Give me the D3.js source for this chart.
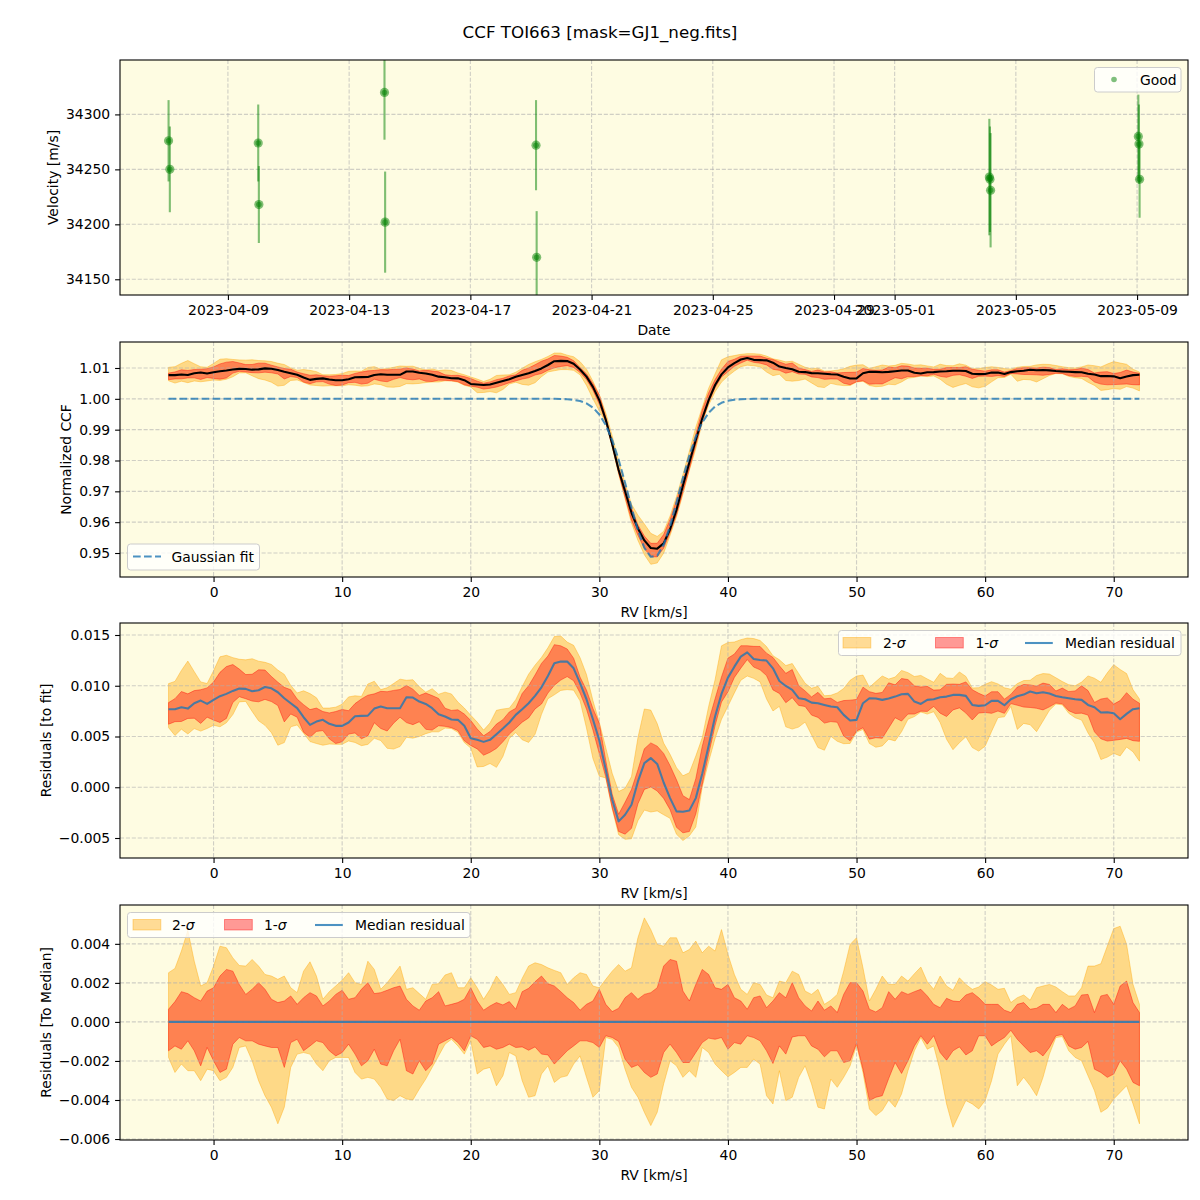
<!DOCTYPE html>
<html>
<head>
<meta charset="utf-8">
<script src="https://cdn.jsdelivr.net/npm/d3@7"></script>
<style>
  body { margin: 0; background: #fff; }
  svg { font-family: "DejaVu Sans", sans-serif; }
</style>
</head>
<body>
<svg id="fig"></svg>
<script>
const width = 1200;
const height = 1200;

// ---- data ----
// RV observations (top panel)
const obsDates = [
  "2023-04-07T01:00Z", "2023-04-07T02:00Z", "2023-04-10T00:00Z", "2023-04-10T00:30Z",
  "2023-04-14T04:00Z", "2023-04-14T04:30Z", "2023-04-19T04:00Z", "2023-04-19T04:30Z",
  "2023-05-04T03:00Z", "2023-05-04T03:30Z", "2023-05-04T04:00Z",
  "2023-05-09T01:00Z", "2023-05-09T01:30Z", "2023-05-09T02:00Z"
];
const obsVel = [34276, 34250, 34274, 34218, 34320, 34202, 34272, 34170, 34243, 34241, 34231, 34280, 34273, 34241];
const obsErr = [37, 39, 35, 35, 43, 46, 41, 42, 53, 48, 52, 38, 36, 35];
const dateTicks = ["2023-04-09", "2023-04-13", "2023-04-17", "2023-04-21", "2023-04-25",
  "2023-04-29", "2023-05-01", "2023-05-05", "2023-05-09"];
const velTicks = [34150, 34200, 34250, 34300];

// RV grid of the CCF, km/s (-3.5 .. 72 in 0.5 steps)
const rvGrid = d3.range(-3.5, 72.25, 0.5);

// Gaussian fit to the CCF
const gaussFit = [
  1, 1, 1, 1, 1, 1, 1, 1, 1, 1, 1, 1, 1, 1, 1, 1, 1, 1, 1, 1,
  1, 1, 1, 1, 1, 1, 1, 1, 1, 1, 1, 1, 1, 1, 1, 1, 1, 1, 1, 1,
  1, 1, 1, 1, 1, 1, 1, 1, 1, 1, 1, 1, 1, 1, 1, 1, 1, 1, 1, 1, 1,
  0.99994, 0.99986, 0.99967, 0.99928, 0.99853, 0.99718, 0.99494, 0.99149, 0.98660, 0.98026,
  0.97275, 0.96478, 0.95738, 0.95171, 0.94877, 0.94911, 0.95266, 0.95876, 0.96637, 0.97431,
  0.98163, 0.98770, 0.99229, 0.99547, 0.99751, 0.99872, 0.99938, 0.99972, 0.99988, 0.99995,
  1, 1, 1, 1, 1, 1, 1, 1, 1, 1, 1, 1, 1, 1, 1, 1, 1, 1, 1, 1,
  1, 1, 1, 1, 1, 1, 1, 1, 1, 1, 1, 1, 1, 1, 1, 1, 1, 1, 1, 1,
  1, 1, 1, 1, 1, 1, 1, 1, 1, 1, 1, 1, 1, 1, 1, 1, 1, 1, 1, 1, 1
];

// median residual to the fit (units of 1e-3)
const resMedian = [
  7.69, 7.69, 7.88, 7.75, 8.28, 8.54, 8.21, 8.61, 8.97, 9.20,
  9.49, 9.72, 9.69, 9.46, 9.56, 9.88, 9.75, 9.36, 8.77, 8.28,
  7.79, 6.90, 6.15, 6.47, 6.64, 6.25, 6.05, 6.05, 6.38, 7.00,
  7.03, 7.06, 7.75, 7.95, 7.79, 7.79, 7.79, 8.87, 8.84, 8.44,
  8.21, 7.79, 7.20, 6.97, 6.67, 6.64, 6.05, 4.83, 4.67, 4.47,
  4.67, 5.23, 5.79, 6.38, 7.13, 7.69, 8.28, 9.00, 9.85, 10.97,
  12.21, 12.38, 12.38, 11.72, 10.25, 8.67, 6.70, 4.61, 1.72, -1.23,
  -3.36, -2.71, -1.72, 0.57, 2.38, 2.87, 2.30, 0.47, -1.07, -2.38,
  -2.41, -2.28, -1.07, 1.33, 4.08, 6.97, 9.20, 10.80, 11.88, 12.87,
  13.29, 12.64, 12.54, 12.48, 11.72, 10.47, 9.98, 9.59, 8.77, 8.67,
  8.34, 8.28, 8.11, 7.95, 7.88, 7.13, 6.57, 6.64, 8.28, 8.77,
  8.74, 8.61, 8.74, 8.93, 9.16, 9.20, 8.44, 8.21, 8.61, 8.67,
  8.87, 8.93, 9.10, 9.10, 9.00, 8.11, 8.02, 8.08, 8.51, 8.51,
  8.08, 8.67, 8.97, 9.13, 9.43, 9.26, 9.36, 9.23, 9.00, 8.87,
  8.77, 8.67, 8.61, 8.11, 7.88, 7.36, 7.39, 7.29, 6.70, 7.23,
  7.69, 7.79
];

// band edges relative to the median (units of 1e-3)
const sig1Hi = [
  0.65, 1.04, 1.55, 1.45, 1.24, 1.07, 1.58, 1.75, 2.35, 2.69,
  2.60, 1.92, 1.41, 1.67, 2.01, 1.67, 1.16, 0.99, 1.07, 1.33,
  0.90, 1.24, 1.50, 1.33, 0.82, 1.07, 1.41, 1.62, 1.16, 1.24,
  1.67, 2.01, 1.45, 1.50, 1.62, 1.75, 1.84, 1.16, 0.82, 0.60,
  1.07, 1.24, 1.55, 0.82, 0.90, 0.99, 1.16, 1.75, 1.07, 0.60,
  0.82, 0.99, 0.87, 1.04, 0.65, 1.55, 1.72, 2.06, 2.35, 1.96,
  1.84, 1.55, 1.24, 0.99, 0.60, 0.90, 1.07, 1.67, 0.90, 0.53,
  0.70, 1.24, 1.50, 1.16, 1.41, 1.50, 1.75, 2.86, 3.20, 3.11,
  1.58, 1.07, 1.92, 2.69, 2.43, 1.75, 1.67, 1.92, 1.24, 1.07,
  0.65, 1.24, 1.33, 0.73, 1.07, 1.50, 1.24, 2.01, 1.24, 0.82,
  0.56, 1.07, 0.60, 0.82, 0.48, 1.41, 2.01, 2.01, 1.58, 0.65,
  0.51, 0.73, 1.55, 1.16, 1.55, 1.41, 1.55, 1.67, 1.33, 0.90,
  0.73, 1.21, 1.07, 1.04, 1.38, 1.50, 1.24, 0.90, 0.90, 0.90,
  0.60, 0.48, 0.90, 0.99, 0.65, 0.70, 0.90, 0.90, 0.48, 0.90,
  0.65, 0.82, 1.38, 1.41, 0.48, 1.33, 1.41, 0.90, 1.84, 2.09,
  0.99, 0.48
];
const sig1Lo = [
  -1.48, -1.23, -1.40, -0.97, -1.48, -2.25, -1.31, -1.99, -2.59, -2.42,
  -1.14, -0.80, -0.97, -0.97, -1.14, -1.23, -1.31, -1.31, -2.33, -1.06,
  -0.89, -1.48, -1.23, -0.97, -1.06, -1.48, -1.74, -1.57, -1.14, -1.65,
  -2.25, -1.99, -1.40, -2.16, -2.25, -1.48, -0.89, -2.50, -2.67, -1.99,
  -2.50, -2.16, -1.14, -0.97, -0.80, -1.06, -1.48, -0.71, -0.89, -1.31,
  -1.23, -1.40, -1.31, -1.14, -1.31, -1.28, -1.45, -1.28, -1.65, -1.69,
  -2.16, -1.82, -1.48, -1.23, -0.97, -0.97, -1.06, -1.31, -0.71, -0.80,
  -1.00, -1.91, -2.33, -2.20, -2.59, -2.84, -2.67, -1.57, -1.14, -1.57,
  -2.08, -2.08, -1.57, -1.06, -0.83, -0.89, -0.80, -1.40, -1.06, -1.14,
  -0.71, -0.80, -0.97, -1.48, -2.13, -1.23, -1.65, -0.77, -0.71, -0.71,
  -1.23, -1.40, -1.79, -1.48, -1.48, -2.08, -1.99, -1.10, -2.42, -4.03,
  -3.86, -3.78, -2.90, -2.08, -2.64, -1.99, -1.23, -0.71, -1.14, -0.71,
  -1.57, -1.96, -1.48, -1.28, -1.69, -1.48, -0.71, -0.71, -1.23, -1.00,
  -0.80, -0.43, -0.89, -1.23, -1.57, -1.48, -1.74, -1.31, -0.71, -0.65,
  -1.23, -1.40, -1.31, -1.00, -2.42, -2.59, -2.84, -2.67, -1.99, -2.42,
  -3.10, -3.27
];
const sig2Hi = [
  2.52, 2.74, 3.63, 4.68, 3.11, 1.84, 2.01, 2.86, 3.88, 3.80,
  3.28, 2.89, 2.86, 3.20, 2.86, 2.43, 2.35, 2.18, 2.35, 1.75,
  1.50, 2.60, 3.08, 2.35, 1.16, 1.55, 1.84, 2.13, 2.52, 2.01,
  1.92, 3.11, 2.69, 1.67, 2.01, 2.43, 2.86, 1.67, 1.75, 1.45,
  1.16, 1.92, 1.96, 2.40, 2.52, 1.75, 1.75, 2.26, 1.75, 1.16,
  1.67, 2.35, 1.92, 1.41, 1.50, 2.23, 2.86, 3.03, 2.94, 2.77,
  2.64, 2.52, 1.92, 2.26, 2.52, 2.43, 1.84, 1.75, 2.18, 2.60,
  2.94, 2.60, 2.77, 4.31, 5.33, 4.73, 3.97, 3.88, 4.31, 4.31,
  3.54, 3.71, 4.14, 3.54, 3.88, 3.63, 4.73, 3.46, 2.43, 1.67,
  1.41, 2.01, 1.92, 1.38, 1.24, 2.09, 2.01, 2.60, 2.43, 1.58,
  1.41, 1.67, 0.90, 1.11, 1.41, 2.60, 3.97, 4.31, 2.77, 1.07,
  1.67, 2.35, 1.92, 1.92, 2.35, 2.09, 2.47, 2.81, 2.06, 1.67,
  2.35, 1.84, 1.62, 2.26, 1.92, 1.67, 1.79, 2.06, 1.89, 1.67,
  1.72, 0.99, 1.24, 1.38, 1.11, 1.75, 1.84, 1.92, 1.79, 1.55,
  1.33, 1.33, 1.75, 2.86, 2.86, 2.98, 3.88, 4.78, 4.90, 3.97,
  1.92, 0.90
];
const sig2Lo = [
  -1.82, -2.59, -2.16, -2.50, -2.50, -3.01, -2.42, -2.50, -3.01, -2.84,
  -2.33, -1.31, -1.23, -1.99, -3.01, -3.78, -4.37, -5.22, -4.37, -2.33,
  -1.65, -1.57, -1.65, -2.16, -2.50, -1.99, -1.82, -1.82, -1.82, -2.59,
  -2.93, -2.84, -2.93, -3.35, -3.95, -4.03, -3.78, -3.95, -4.00, -3.44,
  -2.93, -2.33, -1.74, -1.14, -0.89, -1.23, -1.65, -0.97, -2.67, -2.42,
  -2.33, -3.27, -2.76, -1.57, -1.74, -3.01, -3.86, -3.78, -2.67, -2.25,
  -3.10, -2.84, -2.76, -2.16, -1.74, -2.84, -3.86, -3.52, -0.80, -0.89,
  -1.31, -2.42, -3.35, -3.86, -4.63, -5.31, -4.63, -3.18, -1.99, -2.25,
  -2.84, -2.50, -2.84, -1.31, -1.57, -2.16, -2.50, -2.81, -2.59, -2.33,
  -2.33, -1.91, -2.16, -3.78, -4.20, -2.50, -4.03, -3.86, -2.84, -2.25,
  -3.18, -4.37, -4.46, -2.93, -3.35, -2.84, -2.25, -1.20, -2.59, -4.46,
  -4.80, -4.54, -4.00, -4.37, -3.69, -2.50, -1.48, -0.80, -1.40, -1.23,
  -2.50, -4.20, -5.40, -4.71, -4.03, -4.20, -4.46, -4.03, -3.01, -1.65,
  -1.14, -0.71, -3.27, -2.84, -3.27, -3.78, -2.84, -1.65, -0.80, -0.75,
  -1.48, -1.82, -1.99, -2.76, -3.52, -4.63, -4.42, -3.95, -3.61, -3.27,
  -4.20, -5.22
];

const rvTicks = [0, 10, 20, 30, 40, 50, 60, 70];
const ccfTicks = [0.95, 0.96, 0.97, 0.98, 0.99, 1.0, 1.01];
const resTicks = [-0.005, 0, 0.005, 0.01, 0.015];
const medTicks = [-0.006, -0.004, -0.002, 0, 0.002, 0.004];

// ---- table built from the arrays above ----
const rows = rvGrid.map((rv, i) => ({
  rv: rv,
  fit: gaussFit[i],
  med: resMedian[i] * 1e-3,
  d1lo: sig1Lo[i] * 1e-3,
  d1hi: sig1Hi[i] * 1e-3,
  d2lo: sig2Lo[i] * 1e-3,
  d2hi: sig2Hi[i] * 1e-3
}));
const obs = obsDates.map((d, i) => ({ date: new Date(d), v: obsVel[i], e: obsErr[i] }));

// ---- layout ----
const left = 120, right = 1188;
const BG = "#fefce2";
const FS = "13.9px";
const BLUE = "#1f77b4";

const svg = d3.select("#fig").attr("width", width).attr("height", height);
svg.append("rect").attr("width", width).attr("height", height).attr("fill", "#fff");

svg.append("text")
  .attr("x", 600).attr("y", 38)
  .attr("text-anchor", "middle")
  .attr("font-size", "16.7px")
  .text("CCF TOI663 [mask=GJ1_neg.fits]");

const xRV = d3.scaleLinear().domain([-7.275, 75.775]).range([left, right]);

function makePanel(id, top, bottom) {
  const g = svg.append("g");
  g.append("rect")
    .attr("x", left).attr("y", top)
    .attr("width", right - left).attr("height", bottom - top)
    .attr("fill", BG);
  svg.append("clipPath").attr("id", id)
    .append("rect")
    .attr("x", left).attr("y", top)
    .attr("width", right - left).attr("height", bottom - top);
  const data = g.append("g").attr("clip-path", `url(#${id})`);
  return { g, data, top, bottom };
}

function grid(p, x, xVals, y, yVals) {
  const gg = p.data.append("g")
    .attr("stroke", "#b0b0b0")
    .attr("stroke-opacity", 0.6)
    .attr("stroke-width", 1.1)
    .attr("stroke-dasharray", "4.1,1.8");
  xVals.forEach((v) => {
    gg.append("line").attr("x1", x(v)).attr("x2", x(v)).attr("y1", p.top).attr("y2", p.bottom);
  });
  yVals.forEach((v) => {
    gg.append("line").attr("x1", left).attr("x2", right).attr("y1", y(v)).attr("y2", y(v));
  });
}

function axes(p, x, xVals, xFmt, y, yVals, yFmt, xLabel, yLabel, yLabelX) {
  const ax = p.g.append("g")
    .attr("transform", `translate(0,${p.bottom})`)
    .call(d3.axisBottom(x).tickValues(xVals).tickFormat(xFmt).tickSize(4.9).tickPadding(4.9));
  const ay = p.g.append("g")
    .attr("transform", `translate(${left},0)`)
    .call(d3.axisLeft(y).tickValues(yVals).tickFormat(yFmt).tickSize(4.9).tickPadding(4.9));
  [ax, ay].forEach((a) => {
    a.select(".domain").remove();
    a.selectAll("line").attr("stroke", "#000").attr("stroke-width", 1.1);
    a.selectAll("text").attr("font-size", FS).attr("fill", "#000")
      .attr("font-family", "DejaVu Sans, sans-serif");
  });
  p.g.append("rect")
    .attr("x", left).attr("y", p.top)
    .attr("width", right - left).attr("height", p.bottom - p.top)
    .attr("fill", "none").attr("stroke", "#000").attr("stroke-width", 1.1);
  p.g.append("text")
    .attr("x", (left + right) / 2).attr("y", p.bottom + 40)
    .attr("text-anchor", "middle").attr("font-size", FS)
    .text(xLabel);
  p.g.append("text")
    .attr("transform", `translate(${yLabelX},${(p.top + p.bottom) / 2}) rotate(-90)`)
    .attr("text-anchor", "middle").attr("font-size", FS)
    .text(yLabel);
}

function band(p, x, y, lo, hi, color) {
  p.data.append("path")
    .datum(rows)
    .attr("d", d3.area().x((d) => x(d.rv)).y0((d) => y(lo(d))).y1((d) => y(hi(d))))
    .attr("fill", color).attr("fill-opacity", 0.4)
    .attr("stroke", color).attr("stroke-opacity", 0.4).attr("stroke-width", 1);
}

function curve(p, x, y, f, color, opts) {
  const path = p.data.append("path")
    .datum(rows)
    .attr("d", d3.line().x((d) => x(d.rv)).y((d) => y(f(d))))
    .attr("fill", "none").attr("stroke", color)
    .attr("stroke-width", opts.width || 2.08)
    .attr("stroke-opacity", opts.opacity || 1)
    .attr("stroke-linejoin", "round");
  if (opts.dash) path.attr("stroke-dasharray", opts.dash);
}

function legendBox(p, x0, y0, w, h) {
  p.g.append("rect")
    .attr("x", x0).attr("y", y0).attr("width", w).attr("height", h)
    .attr("rx", 3)
    .attr("fill", "#fff").attr("fill-opacity", 0.8)
    .attr("stroke", "#cccccc").attr("stroke-width", 1);
}

function sigmaLabel(p, x, yb, n) {
  const t = p.g.append("text").attr("x", x).attr("y", yb).attr("font-size", FS);
  t.append("tspan").text(n + "-");
  t.append("tspan").attr("font-style", "italic").text("σ");
}

function sigmaLegend(p, x0, y0, w, parts) {
  legendBox(p, x0, y0, w, 25);
  const cy = y0 + 12.5;
  p.g.append("rect").attr("x", parts[0]).attr("y", cy - 5.5).attr("width", 27.8).attr("height", 10.5)
    .attr("fill", "orange").attr("fill-opacity", 0.4)
    .attr("stroke", "orange").attr("stroke-opacity", 0.4);
  sigmaLabel(p, parts[1], cy + 5, 2);
  p.g.append("rect").attr("x", parts[2]).attr("y", cy - 5.5).attr("width", 27.8).attr("height", 10.5)
    .attr("fill", "red").attr("fill-opacity", 0.4)
    .attr("stroke", "red").attr("stroke-opacity", 0.4);
  sigmaLabel(p, parts[3], cy + 5, 1);
  p.g.append("line").attr("x1", parts[4]).attr("x2", parts[4] + 27.8).attr("y1", cy).attr("y2", cy)
    .attr("stroke", BLUE).attr("stroke-opacity", 0.8).attr("stroke-width", 2.08);
  p.g.append("text").attr("x", parts[5]).attr("y", cy + 5).attr("font-size", FS).text("Median residual");
}

// ---- panel 1: velocities ----
const p1 = makePanel("clip1", 60, 295);
const xDate = d3.scaleUtc()
  .domain([new Date("2023-04-05T10:32Z"), new Date("2023-05-10T16:20Z")])
  .range([left, right]);
const yVel = d3.scaleLinear().domain([34135.7, 34349.5]).range([295, 60]);
const dateTickVals = dateTicks.map((d) => new Date(d + "T00:00Z"));
grid(p1, xDate, dateTickVals, yVel, velTicks);

p1.data.selectAll("line.err")
  .data(obs).enter().append("line")
  .attr("class", "err")
  .attr("x1", (d) => xDate(d.date)).attr("x2", (d) => xDate(d.date))
  .attr("y1", (d) => yVel(d.v - d.e)).attr("y2", (d) => yVel(d.v + d.e))
  .attr("stroke", "green").attr("stroke-opacity", 0.5).attr("stroke-width", 2.1);
p1.data.selectAll("circle.mk")
  .data(obs).enter().append("circle")
  .attr("class", "mk")
  .attr("cx", (d) => xDate(d.date)).attr("cy", (d) => yVel(d.v))
  .attr("r", 4.6)
  .attr("fill", "green").attr("fill-opacity", 0.5);
p1.data.selectAll("circle.pt")
  .data(obs).enter().append("circle")
  .attr("class", "pt")
  .attr("cx", (d) => xDate(d.date)).attr("cy", (d) => yVel(d.v))
  .attr("r", 2.8)
  .attr("fill", "green").attr("fill-opacity", 0.5);

axes(p1, xDate, dateTickVals, d3.utcFormat("%Y-%m-%d"), yVel, velTicks, d3.format("d"),
  "Date", "Velocity [m/s]", 58);

legendBox(p1, 1094.5, 67.5, 86.5, 24.5);
p1.g.append("circle").attr("cx", 1114).attr("cy", 79.5).attr("r", 2.8)
  .attr("fill", "green").attr("fill-opacity", 0.5);
p1.g.append("text").attr("x", 1140).attr("y", 84.5).attr("font-size", FS).text("Good");

// ---- panel 2: normalized CCF ----
const p2 = makePanel("clip2", 342, 577);
const yCCF = d3.scaleLinear().domain([0.94222, 1.01843]).range([577, 342]);
band(p2, xRV, yCCF, (d) => d.fit + d.med + d.d2lo, (d) => d.fit + d.med + d.d2hi, "orange");
band(p2, xRV, yCCF, (d) => d.fit + d.med + d.d1lo, (d) => d.fit + d.med + d.d1hi, "red");
grid(p2, xRV, rvTicks, yCCF, ccfTicks);
curve(p2, xRV, yCCF, (d) => d.fit + d.med, "#000", { width: 2.08 });
curve(p2, xRV, yCCF, (d) => d.fit, BLUE, { width: 2.08, opacity: 0.8, dash: "7.7,3.3" });
axes(p2, xRV, rvTicks, d3.format("d"), yCCF, ccfTicks, d3.format(".2f"),
  "RV [km/s]", "Normalized CCF", 71);

legendBox(p2, 127.5, 544, 132, 26);
p2.g.append("line").attr("x1", 133).attr("x2", 161).attr("y1", 556.5).attr("y2", 556.5)
  .attr("stroke", BLUE).attr("stroke-opacity", 0.8).attr("stroke-width", 2.08)
  .attr("stroke-dasharray", "7.7,3.3");
p2.g.append("text").attr("x", 171.5).attr("y", 561.5).attr("font-size", FS).text("Gaussian fit");

// ---- panel 3: residuals to the fit ----
const p3 = makePanel("clip3", 623, 858);
const yRes = d3.scaleLinear().domain([-0.00697, 0.016182]).range([858, 623]);
band(p3, xRV, yRes, (d) => d.med + d.d2lo, (d) => d.med + d.d2hi, "orange");
band(p3, xRV, yRes, (d) => d.med + d.d1lo, (d) => d.med + d.d1hi, "red");
grid(p3, xRV, rvTicks, yRes, resTicks);
curve(p3, xRV, yRes, (d) => d.med, BLUE, { width: 2.08, opacity: 0.8 });
axes(p3, xRV, rvTicks, d3.format("d"), yRes, resTicks, d3.format(".3f"),
  "RV [km/s]", "Residuals [to fit]", 51);
sigmaLegend(p3, 838.5, 630.5, 342.5, [843, 883, 935.5, 975.5, 1025, 1065]);

// ---- panel 4: residuals to the median ----
const p4 = makePanel("clip4", 905, 1140);
const yMed = d3.scaleLinear().domain([-0.00605, 0.00599]).range([1140, 905]);
band(p4, xRV, yMed, (d) => d.d2lo, (d) => d.d2hi, "orange");
band(p4, xRV, yMed, (d) => d.d1lo, (d) => d.d1hi, "red");
grid(p4, xRV, rvTicks, yMed, medTicks);
curve(p4, xRV, yMed, () => 0, BLUE, { width: 2.08, opacity: 0.8 });
axes(p4, xRV, rvTicks, d3.format("d"), yMed, medTicks, d3.format(".3f"),
  "RV [km/s]", "Residuals [To Median]", 51);
sigmaLegend(p4, 127.5, 912.5, 342.5, [133, 172, 224.5, 264, 315, 355]);
</script>
</body>
</html>
